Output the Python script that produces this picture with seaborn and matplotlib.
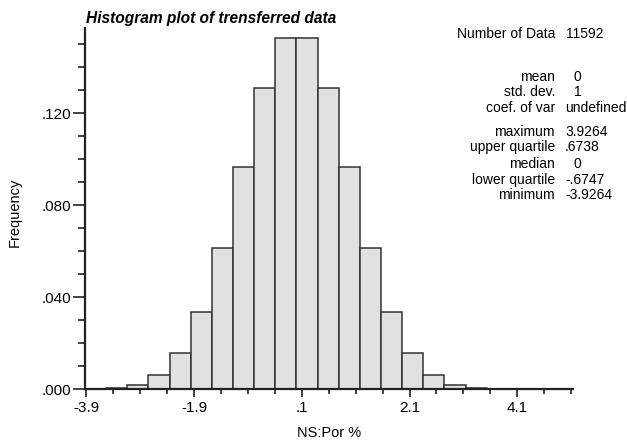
import numpy as np
import pandas as pd
import matplotlib
matplotlib.use("Agg")
import matplotlib.pyplot as plt
import seaborn as sns
from matplotlib.ticker import FixedLocator, FuncFormatter

# histogram of the normal-score data, 20 classes between min and max
bin_lo = -3.9264
bin_hi = 3.9264
n_bins = 20
freq = [0.0002, 0.0006, 0.0020, 0.0062, 0.0156, 0.0335, 0.0613, 0.0966, 0.1310, 0.1526,
        0.1526, 0.1310, 0.0966, 0.0613, 0.0335, 0.0156, 0.0062, 0.0020, 0.0006, 0.0002]

x_major = [-3.9, -1.9, 0.1, 2.1, 4.1]
y_major = [0.0, 0.04, 0.08, 0.12]

stat_names = ["mean", "std. dev.", "coef. of var", "maximum", "upper quartile",
              "median", "lower quartile", "minimum"]
stat_values = ["0", "1", "undefined", "3.9264", ".6738", "0", "-.6747", "-3.9264"]
n_data = 11592

edges = np.linspace(bin_lo, bin_hi, n_bins + 1)
df = pd.DataFrame({"x": (edges[:-1] + edges[1:]) / 2, "w": freq})

sns.set_style("white")
plt.rcParams["font.family"] = ["Liberation Sans", "DejaVu Sans"]
plt.rcParams["text.color"] = "black"
plt.rcParams["axes.labelcolor"] = "black"
plt.rcParams["xtick.color"] = "#222222"
plt.rcParams["ytick.color"] = "#222222"
plt.rcParams["xtick.labelcolor"] = "black"
plt.rcParams["ytick.labelcolor"] = "black"

fig = plt.figure(figsize=(6.27, 4.44), dpi=100)
ax = fig.add_axes([0.1356, 0.1232, 0.9134 - 0.1356, 0.937 - 0.1232])

sns.histplot(data=df, x="x", weights="w", bins=n_bins, binrange=(bin_lo, bin_hi), ax=ax,
             color="#e1e1e1", edgecolor="#333333", linewidth=1.1, alpha=1)

ax.set_xlim(-3.9264, 5.13)
ax.set_ylim(0, 0.157)
for s in ["top", "right"]:
    ax.spines[s].set_visible(False)
for s in ["left", "bottom"]:
    ax.spines[s].set_color("#222222")
    ax.spines[s].set_linewidth(1.6)

ax.xaxis.set_major_locator(FixedLocator(x_major))
ax.xaxis.set_minor_locator(FixedLocator(np.arange(-3.4, 5.15, 0.5)))
ax.yaxis.set_major_locator(FixedLocator(y_major))
ax.yaxis.set_minor_locator(FixedLocator(np.arange(0.01, 0.155, 0.01)))
ax.xaxis.set_major_formatter(FuncFormatter(lambda v, p: f"{v:.1f}".replace("0.", ".")))
ax.yaxis.set_major_formatter(FuncFormatter(lambda v, p: f"{v:.3f}".lstrip("0")))

ax.tick_params(axis="x", which="both", bottom=True)
ax.tick_params(axis="y", which="both", left=True)
ax.tick_params(axis="x", which="major", direction="out", length=5.5, width=1.2,
               labelsize=11, pad=3)
ax.tick_params(axis="x", which="minor", direction="out", length=3.5, width=1.2)
ax.tick_params(axis="y", which="major", direction="out", length=9, width=1.2,
               labelsize=11, pad=1)
ax.tick_params(axis="y", which="minor", direction="out", length=5, width=1.2)

ax.set_xlabel("NS:Por %", fontsize=10.5)
ax.xaxis.set_label_coords((329 - 85) / (572.7 - 85), -0.101)
ax.set_ylabel("Frequency", fontsize=10.5)
ax.yaxis.set_label_coords(-0.129, 0.49)

fig.text(86 / 627, 1 - 19 / 444, "Histogram plot of trensferred data",
         fontsize=11.2, fontweight="bold", fontstyle="italic", va="center", ha="left")

# summary statistics block
fs = 10
fig.text(555 / 627, 1 - 34 / 444, "Number of Data", fontsize=fs, ha="right", va="center")
fig.text(566 / 627, 1 - 34 / 444, str(n_data), fontsize=fs, ha="left", va="center")
stat_y = [77, 92, 108, 132, 147, 164, 180, 195]
for name, val, y in zip(stat_names, stat_values, stat_y):
    fig.text(555 / 627, 1 - y / 444, name, fontsize=fs, ha="right", va="center")
    xv = 574 if val in ("0", "1") else 565
    fig.text(xv / 627, 1 - y / 444, val, fontsize=fs, ha="left", va="center")

fig.savefig("out.png", dpi=100)
